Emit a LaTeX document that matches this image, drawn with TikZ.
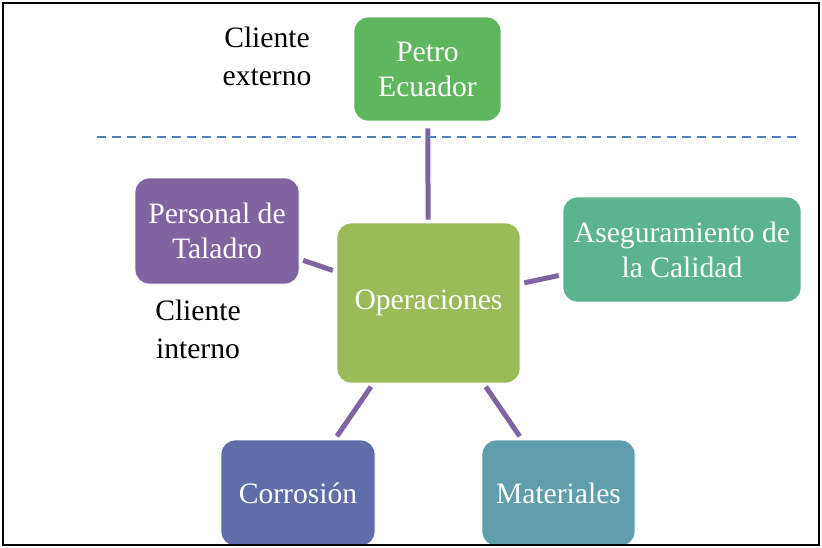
\documentclass[tikz,border=0pt]{standalone}
\usepackage{fontspec}
\setmainfont{Liberation Serif}
\definecolor{petroverde}{HTML}{5EB75C}
\definecolor{morado}{HTML}{8064A2}
\definecolor{oliva}{HTML}{9BBB59}
\definecolor{verdeazul}{HTML}{5BB38F}
\definecolor{azulcorr}{HTML}{5F6EA8}
\definecolor{azulmat}{HTML}{5F9EAD}
\definecolor{rayado}{HTML}{4F81BD}
\tikzset{
    caja/.style={rectangle, rounded corners=7pt, draw=white, line width=0.4pt,
        text=white, align=center, font=\fontsize{14.8}{17.5}\selectfont, inner sep=0pt},
    enlace/.style={draw=morado, line width=2.5pt, shorten <=2pt, shorten >=2pt},
    etiqueta/.style={align=center, font=\fontsize{14.8}{19}\selectfont}
}
\begin{document}
\begin{tikzpicture}[x=0.5pt,y=-0.5pt]
    \useasboundingbox (0,0) rectangle (822,547);
    % cajas
    \node[caja, fill=petroverde, minimum width=73.5pt, minimum height=52pt] (petro) at (427.5,69) {Petro\\Ecuador};
    \node[caja, fill=morado, minimum width=82pt, minimum height=53pt] (personal) at (217,231) {Personal de\\Taladro};
    \node[caja, fill=oliva, minimum width=91.5pt, minimum height=80pt] (oper) at (428.5,303) {Operaciones};
    \node[caja, fill=verdeazul, minimum width=119pt, minimum height=52.5pt] (asegur) at (682,249.5) {Aseguramiento de\\la Calidad};
    \node[caja, fill=azulcorr, minimum width=77pt, minimum height=53pt] (corros) at (298,493) {Corrosión};
    \node[caja, fill=azulmat, minimum width=76.5pt, minimum height=53pt] (mater) at (558.5,493) {Materiales};
    % enlaces
    \draw[enlace, shorten <=3.5pt, shorten >=1.5pt] (petro) -- (oper);
    \draw[enlace] (personal) -- (oper);
    \draw[enlace] (oper) -- (asegur);
    \draw[enlace] (oper) -- (corros);
    \draw[enlace] (oper) -- (mater);
    % linea de separacion
    \coordinate (izq) at (97,137);
    \coordinate (der) at (798,137);
    \draw[rayado, line width=1pt, dash pattern=on 4.5pt off 3pt] (izq) -- (der);
    % textos
    \node[etiqueta] (externo) at (267,56) {Cliente\\externo};
    \node[etiqueta] (interno) at (198,329) {Cliente\\interno};
    % marco
    \draw[line width=1pt] (3,3) rectangle (819,545);
\end{tikzpicture}
\end{document}
